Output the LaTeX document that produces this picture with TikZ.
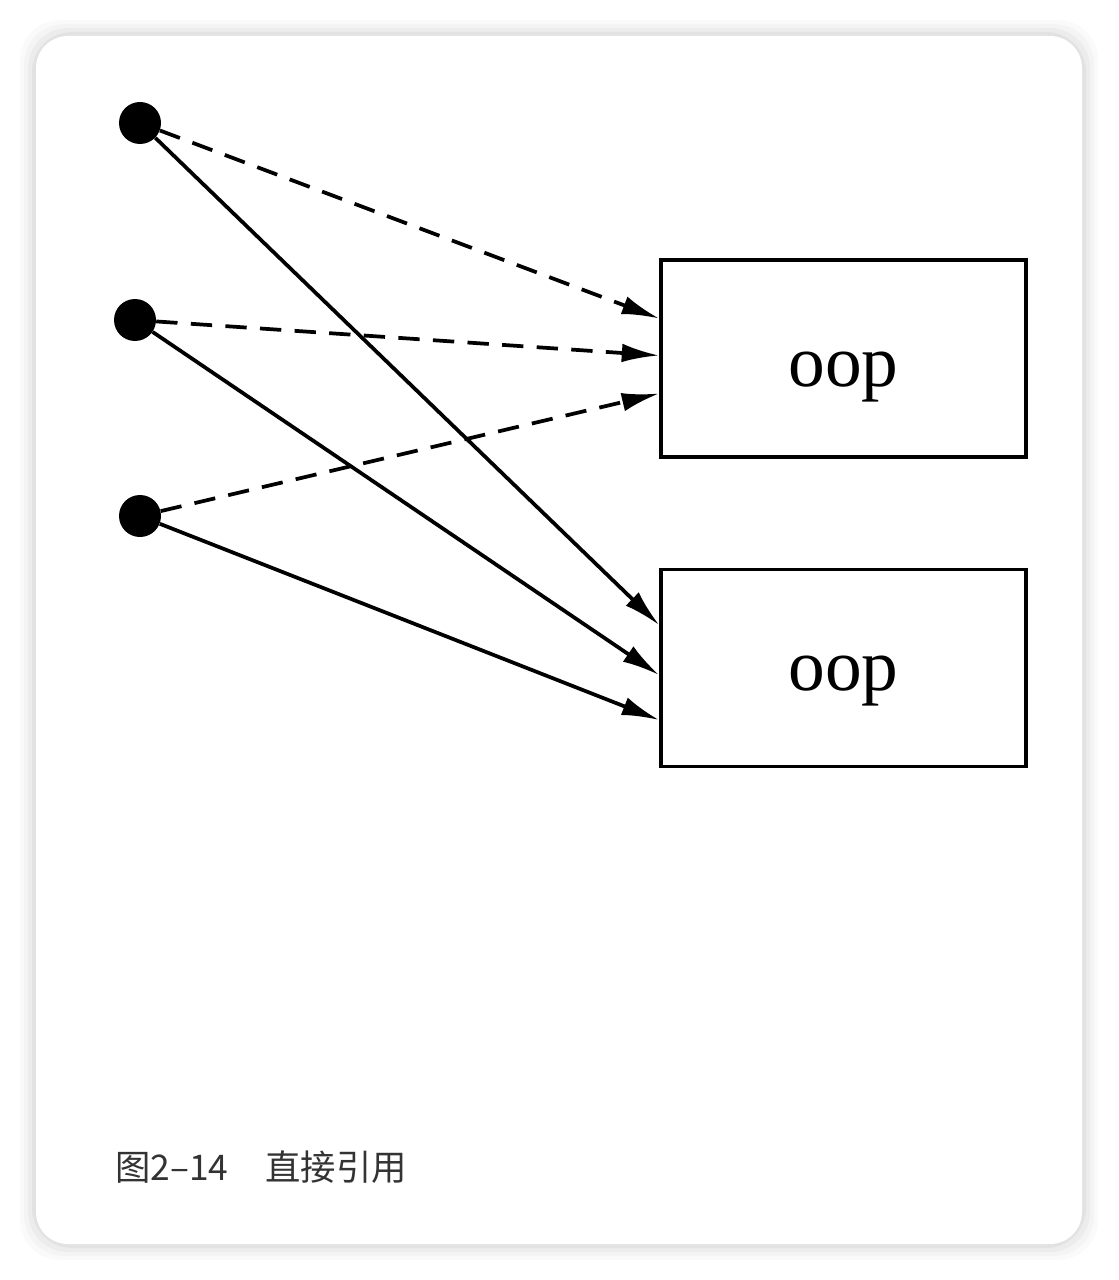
\documentclass[tikz,border=0pt]{standalone}
\usepackage{fontspec}
\setmainfont{Liberation Serif}
\newfontfamily\cjk{Noto Sans CJK SC}
\usetikzlibrary{arrows.meta,calc}
\definecolor{captionGray}{HTML}{333333}
\definecolor{shadowGray}{HTML}{8a8a8a}
\tikzset{
  dot/.style={circle, fill=black, minimum size=31.5pt, inner sep=0pt},
  objbox/.style={draw, line width=2.8pt, minimum width=273.75pt, minimum height=147.75pt, inner sep=0pt},
  objtext/.style={font=\fontsize{55}{62}\selectfont, anchor=base, inner sep=0pt},
  ref/.style={line width=2.8pt, -{Latex[length=28pt,width=14pt]}},
  weakref/.style={ref, dash pattern=on 16pt off 10pt}
}
\begin{document}
\begin{tikzpicture}[x=0.75pt, y=-0.75pt]
  \useasboundingbox (0,0) rectangle (1118,1280);
  % card and its shadow
  \foreach \s/\o in {16/0.04, 12/0.06, 8/0.08, 4/0.10}
    \fill[shadowGray, opacity=\o, rounded corners=30pt] (36-\s,36-\s) rectangle (1082+\s,1244+\s);
  \fill[white, rounded corners=24pt] (36,36) rectangle (1082,1244);
  % references
  \node[dot] (d1) at (140,123) {};
  \node[dot] (d2) at (135,320) {};
  \node[dot] (d3) at (140,516) {};
  % objects
  \node[objbox] (top) at (843.5,358.5) {};
  \node[objbox] (bottom) at (843.5,668) {};
  \node[objtext] (toptext) at (843.5,386) {oop};
  \node[objtext] (bottomtext) at (843.5,690) {oop};
  \draw[weakref] (d1) -- ($(top.west)+(0,-40)$);
  \draw[weakref] (d2) -- ($(top.west)+(0,-3)$);
  \draw[weakref] (d3) -- ($(top.west)+(0,35)$);
  \draw[ref] (d1) -- ($(bottom.west)+(0,-43)$);
  \draw[ref] (d2) -- ($(bottom.west)+(0,7)$);
  \draw[ref] (d3) -- ($(bottom.west)+(0,52)$);
  % caption
  \node[font=\cjk\fontsize{26.5}{30}\selectfont, text=captionGray, anchor=base west, inner sep=0pt] (caption) at (115,1180) {图2–14\hspace{1.05em}直接引用};
\end{tikzpicture}
\end{document}
